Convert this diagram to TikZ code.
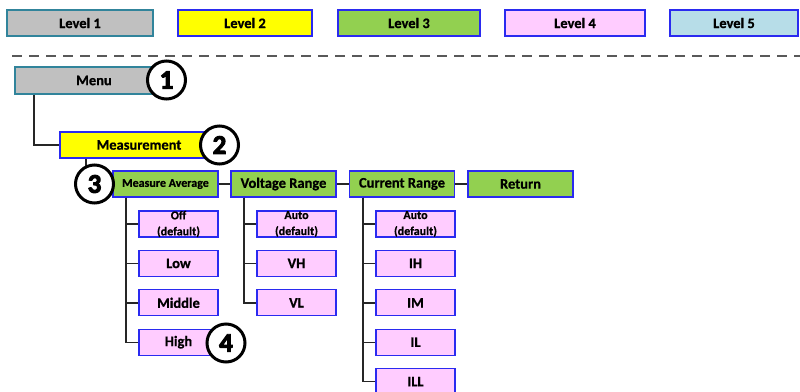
\documentclass[tikz,border=0pt]{standalone}
\usepackage{fontspec}
\setmainfont{Carlito}[BoldFont={Carlito Bold}, BoldFeatures={FakeBold=0.7}]
\newfontfamily\numfont{Carlito Bold}[FakeBold=3.5]
\definecolor{bblue}{HTML}{2A2AF0}
\definecolor{tealb}{HTML}{31849B}
\definecolor{lgray}{HTML}{C0C0C0}
\definecolor{lyellow}{HTML}{FFFF00}
\definecolor{lgreen}{HTML}{92D050}
\definecolor{lpink}{HTML}{FFCCFF}
\definecolor{lblue}{HTML}{B7DDE8}
\begin{document}
\begin{tikzpicture}[x=1pt,y=-1pt,
  box/.style={draw=bblue, line width=1.3pt, minimum height=26pt, inner sep=0pt,
    align=center, font=\fontsize{14.5}{16}\selectfont\bfseries},
  small/.style={font=\fontsize{12}{16}\selectfont\bfseries},
  lvone/.style={box, fill=lgray, draw=tealb, line width=2.2pt},
  lvtwo/.style={box, fill=lyellow},
  lvthree/.style={box, fill=lgreen},
  lvfour/.style={box, fill=lpink},
  lvfive/.style={box, fill=lblue},
  conn/.style={line width=1.4pt, black!85},
  sep/.style={line width=1.8pt, black!65, dash pattern=on 10pt off 7pt},
  num/.style={circle, draw=black, fill=white, line width=3pt, minimum size=38pt,
    inner sep=0pt, font=\fontsize{27}{27}\selectfont\numfont}]
\clip (0,0) rectangle (800,391);
\useasboundingbox (0,0) rectangle (800,391);
% legend
\node[lvone, minimum width=146pt] (L1) at (80,23) {Level 1};
\node[lvtwo, minimum width=134pt] (L2) at (245,23) {Level 2};
\node[lvthree, minimum width=142pt] (L3) at (409,23) {Level 3};
\node[lvfour, minimum width=140pt] (L4) at (575,23) {Level 4};
\node[lvfive, minimum width=128pt] (L5) at (734,23) {Level 5};
\coordinate (dl) at (12,56);
\coordinate (dr) at (800,56);
\draw[sep] (dl) -- (dr);
% tree
\node[lvone, minimum width=158pt, minimum height=27pt] (menu) at (94,80.5) {Menu};
\node[lvtwo, minimum width=158pt] (meas) at (139,145) {Measurement};
\node[lvthree, minimum width=105pt, small] (ma) at (165.5,184) {Measure Average};
\node[lvthree, minimum width=105pt] (vr) at (283.5,184) {Voltage Range};
\node[lvthree, minimum width=105pt] (cr) at (402,184) {Current Range};
\node[lvthree, minimum width=105pt] (ret) at (520.5,184) {Return};
% level 4 children
\node[lvfour, minimum width=79pt, small] (off) at (178.5,224) {Off\\(default)};
\node[lvfour, minimum width=79pt] (low) at (178.5,263.4) {Low};
\node[lvfour, minimum width=79pt] (mid) at (178.5,302.8) {Middle};
\node[lvfour, minimum width=79pt] (high) at (178.5,342.2) {High};
\node[lvfour, minimum width=79pt, small] (vauto) at (296.5,224) {Auto\\(default)};
\node[lvfour, minimum width=79pt] (vh) at (296.5,263.4) {VH};
\node[lvfour, minimum width=79pt] (vl) at (296.5,302.8) {VL};
\node[lvfour, minimum width=79pt, small] (cauto) at (415.5,224) {Auto\\(default)};
\node[lvfour, minimum width=79pt] (ih) at (415.5,263.4) {IH};
\node[lvfour, minimum width=79pt] (im) at (415.5,302.8) {IM};
\node[lvfour, minimum width=79pt] (il) at (415.5,342.2) {IL};
\node[lvfour, minimum width=79pt] (ill) at (415.5,381.6) {ILL};
% connectors
\coordinate (t0) at (34,0);
\coordinate (t1) at (86,0);
\coordinate (t2) at (126,0);
\coordinate (t3) at (244,0);
\coordinate (t4) at (363,0);
\draw[conn] (t0 |- menu.south) |- (meas.west);
\draw[conn] (t1 |- meas.south) |- (ma.west);
\draw[conn] (ma.east) -- (vr.west);
\draw[conn] (vr.east) -- (cr.west);
\draw[conn] (cr.east) -- (ret.west);
\foreach \c in {off,low,mid,high} \draw[conn] (t2 |- ma.south) |- (\c.west);
\foreach \c in {vauto,vh,vl} \draw[conn] (t3 |- vr.south) |- (\c.west);
\foreach \c in {cauto,ih,im,il,ill} \draw[conn] (t4 |- cr.south) |- (\c.west);
% numbered markers
\node[num] (n1) at (166.5,80) {1};
\node[num] (n2) at (219.5,145) {2};
\node[num] (n3) at (94.5,184) {3};
\node[num] (n4) at (226,343) {4};
\end{tikzpicture}
\end{document}
